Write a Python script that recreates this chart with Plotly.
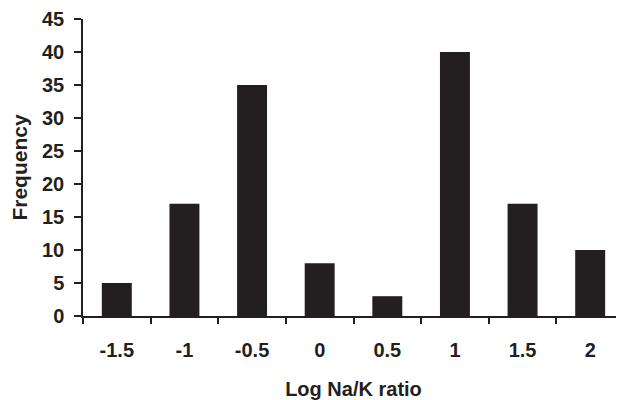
import plotly.graph_objects as go

categories = ["-1.5", "-1", "-0.5", "0", "0.5", "1", "1.5", "2"]
frequency = [5, 17, 35, 8, 3, 40, 17, 10]
y_ticks = [0, 5, 10, 15, 20, 25, 30, 35, 40, 45]

ink = "#231f20"
font_family = "Liberation Sans, Arial, sans-serif"

fig = go.Figure(go.Bar(x=categories, y=frequency, marker=dict(color=ink, line=dict(width=0))))

fig.update_layout(
    width=616, height=392,
    margin=dict(l=75, r=0, t=11, b=84),
    paper_bgcolor="white", plot_bgcolor="white",
    bargap=0.557,
    showlegend=False,
    font=dict(family=font_family, color=ink),
)
fig.update_xaxes(
    type="category",
    showline=True, linecolor=ink, linewidth=1.5,
    ticks="outside", tickson="boundaries", ticklen=6, tickwidth=1.5, tickcolor=ink,
    tickfont=dict(size=20, family=font_family, color=ink, weight="bold"),
    ticklabelstandoff=15,
    showgrid=False, zeroline=False,
    title=dict(text="<b>Log Na/K ratio</b>", font=dict(size=20, color=ink), standoff=22),
)
fig.update_yaxes(
    range=[0, 45], tickvals=y_ticks,
    showline=True, linecolor=ink, linewidth=1.5,
    ticks="outside", ticklen=7, tickwidth=1.5, tickcolor=ink,
    tickfont=dict(size=20, family=font_family, color=ink, weight="bold"),
    ticklabelstandoff=6,
    showgrid=False, zeroline=False,
    title=dict(text="<b>Frequency</b>", font=dict(size=21, color=ink), standoff=10),
)

fig.write_html("out.html")
